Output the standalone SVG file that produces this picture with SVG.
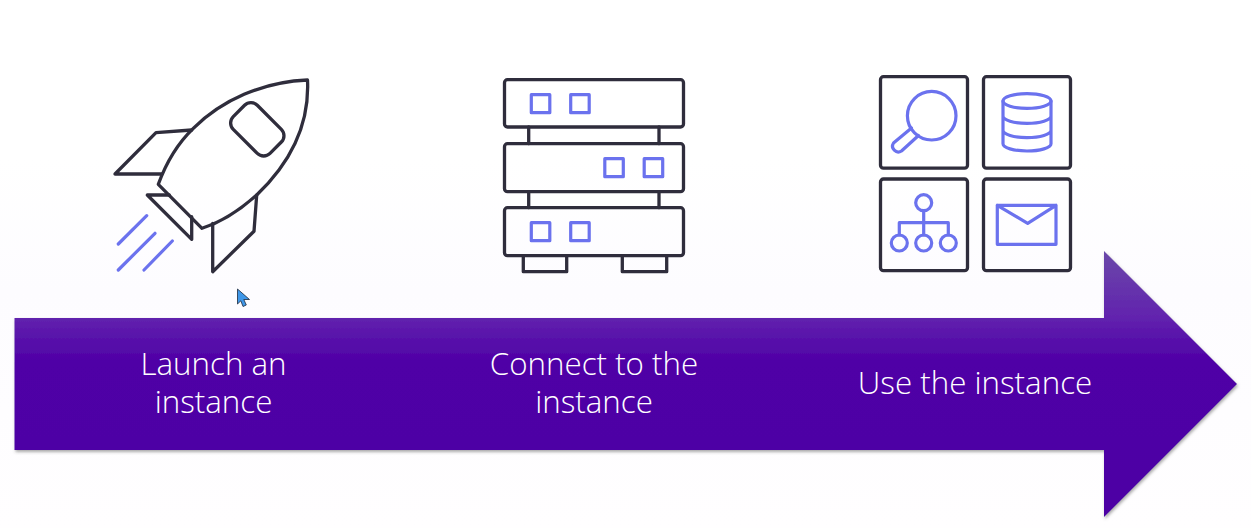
<svg xmlns="http://www.w3.org/2000/svg" width="1251" height="528" viewBox="0 0 1251 528">
<style>
.d{fill:none;stroke:#2f2d3c;stroke-width:3.3;stroke-linejoin:round;stroke-linecap:round}
.b{fill:none;stroke:#6b72ee;stroke-width:3.2;stroke-linejoin:round;stroke-linecap:round}
.t{font-family:"Open Sans","Noto Sans",sans-serif;font-size:31.3px;font-weight:300;fill:#fff;text-anchor:middle}
</style>
<defs>
<linearGradient id="bg" x1="0" y1="0" x2="0" y2="1"><stop offset="0" stop-color="#fff"/><stop offset="0.3" stop-color="#fff"/><stop offset="0.55" stop-color="#fdfcff"/><stop offset="1" stop-color="#fffeff"/></linearGradient>
<linearGradient id="ar" gradientUnits="userSpaceOnUse" x1="0" y1="251" x2="0" y2="517"><stop offset="0" stop-color="#6a48a9"/><stop offset="0.25" stop-color="#6223ae"/><stop offset="0.31" stop-color="#5a15ab"/><stop offset="0.42" stop-color="#4f00a6"/><stop offset="1" stop-color="#4d00a4"/></linearGradient>
<filter id="sh" x="-2%" y="-5%" width="104%" height="110%"><feDropShadow dx="1" dy="2" stdDeviation="1.5" flood-color="#555" flood-opacity="0.5"/></filter>
</defs>
<rect width="1251" height="528" fill="url(#bg)"/>
<g id="arrow">
<path d="M14.5,318H1104V251L1237,384L1104,517V450H14.5Z" fill="url(#ar)" filter="url(#sh)"/>
<text class="t" x="213.5" y="374.5">Launch an</text>
<text class="t" x="213.5" y="413">instance</text>
<text class="t" x="594" y="374.5">Connect to the</text>
<text class="t" x="594" y="413">instance</text>
<text class="t" x="975" y="394">Use the instance</text>
</g>
<g id="rocket">
<path class="d" d="M191.7,130L156,132.7L115,174H161.7"/>
<path class="d" d="M256.7,195L254,231.3L212.7,271.7V223.3"/>
<path class="d" d="M169.3,195H147.3L191.7,239.3V216.7"/>
<path class="d" d="M307.5,80C262,82 222,100 193.3,128.3C178,143 166,163 158.3,184.3L202,228.3C222,222 240,210 256.7,195C285,168 310,130 307.5,80Z" />
<rect class="d" x="231.3" y="112.3" width="52" height="34" rx="9" transform="rotate(45 257.3 129.3)"/>
<path class="b" d="M146.7,215.7L118.3,244M155,233.3L118.3,270M172.3,241L144,270"/>
</g>
<g id="server">
<path class="d" d="M528.7,127V143.7M659,127V143.7M528.7,191.7V207.7M659,191.7V207.7M523.3,255.7V271.7H566.7V255.7M622.3,255.7V271.7H666.7V255.7"/>
<rect class="d" x="504.5" y="79.7" width="179" height="47.3" rx="3"/>
<rect class="d" x="504.5" y="143.7" width="179" height="48" rx="3"/>
<rect class="d" x="504.5" y="207.7" width="179" height="48" rx="3"/>
<g class="b">
<rect x="531.3" y="94.7" width="18.5" height="18"/><rect x="570.7" y="94.7" width="18.5" height="18"/>
<rect x="604.8" y="158.7" width="18.5" height="18"/><rect x="644.2" y="158.7" width="18.5" height="18"/>
<rect x="531.3" y="222.7" width="18.5" height="18"/><rect x="570.7" y="222.7" width="18.5" height="18"/>
</g>
</g>
<g id="search">
<rect class="d" x="880.5" y="76.7" width="87" height="91.5" rx="3"/>
<circle class="b" cx="931.7" cy="115.7" r="24.3"/>
<path class="b" d="M911.5,128L893.5,143A5.8,5.8 0 0 0 901.5,151L918.5,135.5"/>
</g>
<g id="database">
<rect class="d" x="983.5" y="76.7" width="87" height="91.5" rx="3"/>
<ellipse class="b" cx="1027" cy="101" rx="24" ry="7.3"/>
<path class="b" d="M1003,101V143.7A24,7.3 0 0 0 1051,143.7V101M1003,116A24,7.3 0 0 0 1051,116M1003,130.3A24,7.3 0 0 0 1051,130.3"/>
</g>
<g id="network">
<rect class="d" x="880.5" y="179" width="87" height="91.7" rx="3"/>
<circle class="b" cx="923.7" cy="202.7" r="8"/>
<circle class="b" cx="899.3" cy="243" r="8"/>
<circle class="b" cx="923.7" cy="243" r="8"/>
<circle class="b" cx="948.3" cy="243" r="8"/>
<path class="b" d="M923.7,210.7V235M899.3,235V222.7H948.3V235"/>
</g>
<g id="mail">
<rect class="d" x="983.5" y="179" width="87" height="91.7" rx="3"/>
<path class="b" d="M997.3,205.3H1056V244.3H997.3ZM997.3,205.3L1027.7,223.3L1056,205.3"/>
</g>
<path id="cursor" d="M237.5,289V304L240.8,300.8L243,306.5L246.3,305L243.8,299.5H249.5Z" fill="#3f97e8" stroke="#1c2a3c" stroke-width="0.8"/>
</svg>
